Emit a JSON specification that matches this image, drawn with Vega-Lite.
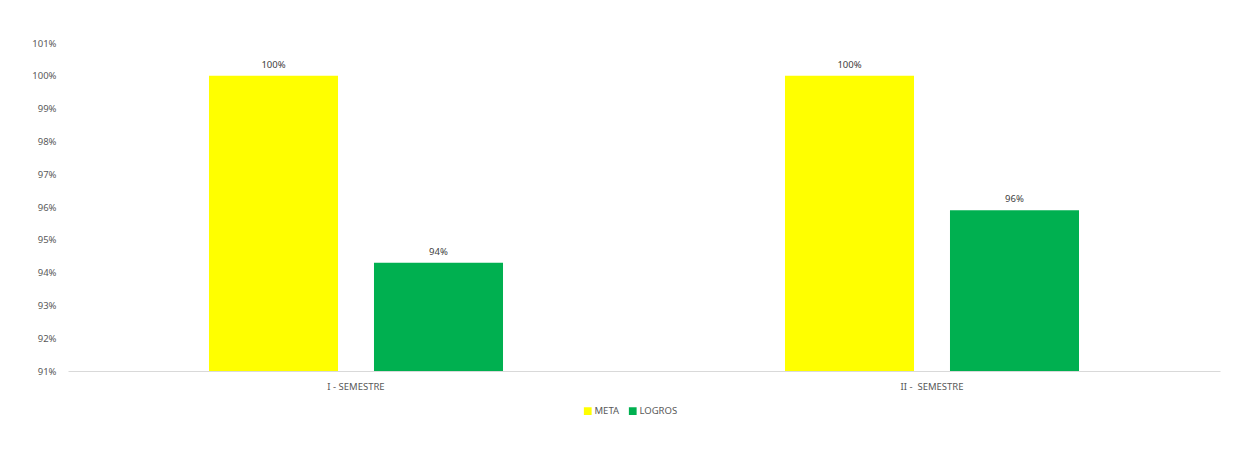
{
  "$schema": "https://vega.github.io/schema/vega-lite/v6.json",
  "width": 1152,
  "height": 328,
  "autosize": {"type": "none"},
  "padding": {"left": 68, "top": 43, "right": 29, "bottom": 86},
  "background": "white",
  "config": {
    "view": {"stroke": null},
    "font": "Noto Sans",
    "axis": {"labelFont": "Noto Sans", "labelColor": "#595959", "labelFontSize": 9.5, "grid": false, "ticks": false, "title": null},
    "legend": {"labelFont": "Noto Sans", "labelColor": "#595959", "labelFontSize": 9.5}
  },
  "data": {
    "values": [
      {"periodo": "I - SEMESTRE", "serie": "META", "valor": 1.0},
      {"periodo": "I - SEMESTRE", "serie": "LOGROS", "valor": 0.943},
      {"periodo": "II - \u00a0SEMESTRE", "serie": "META", "valor": 1.0},
      {"periodo": "II - \u00a0SEMESTRE", "serie": "LOGROS", "valor": 0.959}
    ]
  },
  "encoding": {
    "x": {
      "field": "periodo", "type": "nominal", "sort": null,
      "scale": {"paddingInner": 0, "paddingOuter": 0},
      "axis": {"labelAngle": 0, "domainColor": "#d9d9d9", "labelPadding": 10}
    },
    "xOffset": {
      "field": "serie", "type": "nominal", "sort": ["META", "LOGROS"],
      "scale": {"paddingInner": 0.218, "paddingOuter": 0.8545}
    },
    "y": {
      "field": "valor", "type": "quantitative",
      "scale": {"domain": [0.91, 1.01], "zero": false, "nice": false},
      "axis": {"values": [0.91, 0.92, 0.93, 0.94, 0.95, 0.96, 0.97, 0.98, 0.99, 1.0, 1.01], "format": ".0%", "domain": false, "labelPadding": 12}
    }
  },
  "layer": [
    {
      "mark": {"type": "bar", "clip": true},
      "encoding": {
        "color": {
          "field": "serie", "type": "nominal", "sort": ["META", "LOGROS"],
          "scale": {"domain": ["META", "LOGROS"], "range": ["#FFFF00", "#00B050"]},
          "legend": {"title": null, "orient": "none", "direction": "horizontal", "legendX": 515, "legendY": 363, "symbolType": "square", "symbolSize": 60, "labelOffset": 2, "columnPadding": 8, "symbolStrokeWidth": 0}
        }
      }
    },
    {
      "mark": {"type": "text", "dy": -11, "fontSize": 9.5, "color": "#404040", "font": "Noto Sans"},
      "encoding": {
        "text": {"field": "valor", "type": "quantitative", "format": ".0%"}
      }
    }
  ]
}
